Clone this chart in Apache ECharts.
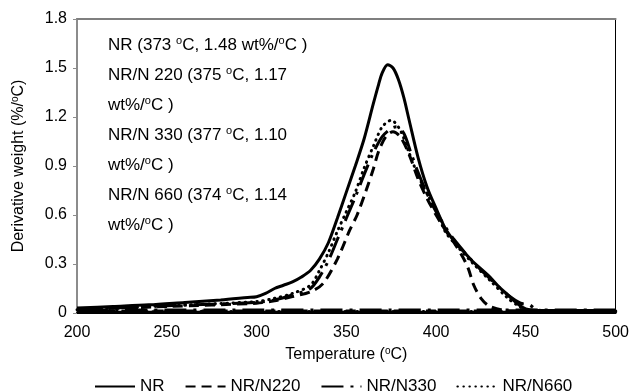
<!DOCTYPE html>
<html><head><meta charset="utf-8">
<script src="https://cdn.jsdelivr.net/npm/echarts@6/dist/echarts.min.js"></script>
<style>html,body{margin:0;padding:0;background:#fff}#c{width:632px;height:391px}</style>
</head><body><div id="c"></div>
<script>
// ---- data (temperature °C, derivative weight %/°C) ----
const seriesNames = ['NR', 'NR/N220', 'NR/N330', 'NR/N660'];

const nrT = [200,220,240,260,280,295,300,305,310,315,320,325,330,335,340,345,350,355,360,365,368,370,373,376,379,382,385,390,395,400,405,410,415,420,425,430,435,440,445,450,460,500];
const nrV = [0.03,0.04,0.05,0.065,0.08,0.095,0.10,0.12,0.15,0.17,0.19,0.22,0.26,0.33,0.43,0.58,0.74,0.90,1.07,1.28,1.40,1.47,1.52,1.50,1.43,1.32,1.18,0.95,0.77,0.64,0.52,0.44,0.38,0.32,0.27,0.22,0.16,0.11,0.06,0.025,0.015,0.015];

const n220T = [200,250,300,310,320,330,337,345,352,356,361,365,368,372,376,380,385,390,395,400,405,410,415,418,421,425,430,440,500];
const n220V = [0.02,0.04,0.06,0.075,0.10,0.13,0.18,0.33,0.51,0.60,0.75,0.88,0.99,1.08,1.11,1.08,0.97,0.82,0.70,0.60,0.51,0.43,0.34,0.27,0.17,0.09,0.04,0.015,0.012];

const n330T = [200,250,300,310,320,330,335,340,345,350,355,360,365,370,375,378,382,386,390,395,400,405,410,420,430,440,447,452,456,465,500];
const n330V = [0.02,0.045,0.065,0.08,0.11,0.15,0.22,0.32,0.45,0.58,0.71,0.85,0.98,1.08,1.13,1.14,1.10,0.98,0.86,0.73,0.62,0.53,0.45,0.32,0.21,0.11,0.06,0.05,0.02,0.01,0.01];

const n660T = [200,250,300,310,320,330,335,340,345,350,355,360,365,370,375,380,385,390,395,400,405,410,420,430,440,445,450,460,500];
const n660V = [0.02,0.045,0.07,0.09,0.12,0.17,0.26,0.37,0.50,0.62,0.74,0.89,1.02,1.14,1.18,1.12,0.98,0.84,0.73,0.63,0.50,0.43,0.31,0.20,0.09,0.05,0.02,0.01,0.01];

// baseline return trace of each curve (500 -> 200 °C)
const returnT = [500, 200];
const nrReturnV = [0.004, 0.004];
const n220ReturnV = [0.012, 0.012];
const n330ReturnV = [0.018, 0.018];
const n660ReturnV = [0.008, 0.008];

const xTicks = {min: 200, max: 500, step: 50};
const yTicks = {min: 0, max: 1.8, step: 0.3};

const annotationLines = [
  'NR (373 {s|o}C, 1.48 wt%/{s|o}C )',
  'NR/N 220 (375 {s|o}C, 1.17',
  'wt%/{s|o}C )',
  'NR/N 330 (377 {s|o}C, 1.10',
  'wt%/{s|o}C )',
  'NR/N 660 (374 {s|o}C, 1.14',
  'wt%/{s|o}C )'
];

// ---- build ----
const FONT = '"Liberation Sans", Arial, sans-serif';
function pairs(t, v, rt, rv) {
  const out = t.map((x, i) => [x, v[i]]);
  rt.forEach((x, i) => out.push([x, rv[i]]));
  return out;
}
const supTop = (fs) => ({ s: { fontSize: fs, lineHeight: fs, verticalAlign: 'top', padding: [Math.round(fs*0.45), 0, 0, 0], fontFamily: FONT, color: '#000' } });
const supBottom = (fs) => ({ s: { fontSize: fs, lineHeight: fs, verticalAlign: 'bottom', padding: [0, 0, 7, 0], fontFamily: FONT, color: '#000' } });

const styles = [
  { type: 'solid', width: 3 },
  { type: [10, 6], width: 3 },
  { type: [22, 7, 3, 7], width: 3 },
  { type: [0.5, 5.5], width: 3, cap: 'round' }
];
const datasets = [
  pairs(nrT, nrV, returnT, nrReturnV),
  pairs(n220T, n220V, returnT, n220ReturnV),
  pairs(n330T, n330V, returnT, n330ReturnV),
  pairs(n660T, n660V, returnT, n660ReturnV)
];

const chart = echarts.init(document.getElementById('c'), null, { renderer: 'canvas' });
chart.setOption({
  animation: false,
  backgroundColor: '#fff',
  textStyle: { fontFamily: FONT, color: '#000' },
  grid: { left: 77, right: 16, top: 19, bottom: 78 },
  title: {
    left: 108, top: 30, padding: 0,
    text: annotationLines.join('\n'),
    textStyle: { fontSize: 17, fontWeight: 'normal', color: '#000', fontFamily: FONT, lineHeight: 30, rich: supTop(11) }
  },
  legend: {
    left: 89, top: 373, itemWidth: 40, itemHeight: 18, itemGap: 20,
    itemStyle: { opacity: 0, borderWidth: 0 },
    textStyle: { fontSize: 17, color: '#000', fontFamily: FONT },
    data: seriesNames
  },
  xAxis: [{
    type: 'value', min: xTicks.min, max: xTicks.max, interval: xTicks.step,
    name: 'Temperature ({s|o}C)', nameLocation: 'middle', nameGap: 34,
    nameTextStyle: { fontSize: 16, color: '#000', fontFamily: FONT, rich: supBottom(10) },
    axisLine: { show: true, lineStyle: { color: '#000', width: 2 } },
    axisTick: { show: false },
    axisLabel: { fontSize: 16, color: '#000', margin: 12, fontFamily: FONT },
    splitLine: { show: false }
  }, {
    type: 'value', position: 'top', min: xTicks.min, max: xTicks.max,
    axisLine: { show: true, onZero: false, lineStyle: { color: '#7f7f7f', width: 2 } },
    axisTick: { show: false }, axisLabel: { show: false }, splitLine: { show: false }
  }],
  yAxis: [{
    type: 'value', min: yTicks.min, max: yTicks.max, interval: yTicks.step,
    name: 'Derivative weight (%/{s|o}C)', nameLocation: 'middle', nameGap: 50,
    nameTextStyle: { fontSize: 16, color: '#000', fontFamily: FONT, rich: supBottom(10) },
    axisLine: { show: true, lineStyle: { color: '#8c8c8c', width: 2 } },
    axisTick: { show: true, length: 4, lineStyle: { color: '#8c8c8c' } },
    axisLabel: { fontSize: 16, color: '#000', margin: 10, fontFamily: FONT,
      formatter: v => (Math.abs(v) < 1e-9 ? '0' : v.toFixed(1)) },
    splitLine: { show: false }
  }, {
    type: 'value', position: 'right', min: yTicks.min, max: yTicks.max,
    axisLine: { show: true, onZero: false, lineStyle: { color: '#000', width: 1 } },
    axisTick: { show: false }, axisLabel: { show: false }, splitLine: { show: false }
  }],
  series: seriesNames.map((name, i) => ({
    name, type: 'line', xAxisIndex: 0, yAxisIndex: 0,
    data: datasets[i], symbol: 'none', smooth: 0.3, clip: false,
    lineStyle: Object.assign({ color: '#000' }, styles[i]),
    itemStyle: { color: '#000' },
    z: 3 + i
  }))
});
</script></body></html>
